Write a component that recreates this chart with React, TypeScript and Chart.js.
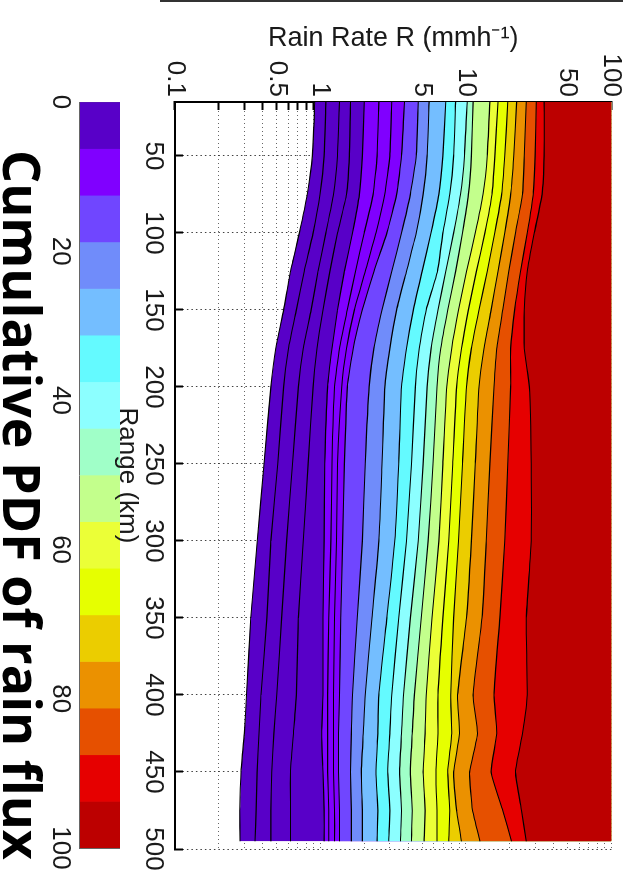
import React, { useEffect, useRef } from "react";
import { Chart, registerables } from "chart.js";

Chart.register(...registerables);

// Range (km) at which the contour boundaries were read
const rangeKm = [15, 50, 75, 100, 125, 150, 175, 200, 250, 300, 350, 400, 425, 450, 475, 495];

// Rain rate (mm/h) of each filled-contour boundary of the cumulative rain-flux PDF
const edge00 = [0.914, 0.88, 0.811, 0.716, 0.622, 0.558, 0.493, 0.456, 0.409, 0.368, 0.332, 0.31, 0.3, 0.284, 0.279, 0.28];
const edge06 = [2.0, 1.94, 1.85, 1.66, 1.46, 1.31, 1.2, 1.12, 1.07, 1.06, 1.04, 1.04, 1.02, 1.04, 1.06, 1.06];
const edge13 = [3.78, 3.61, 3.34, 2.86, 2.33, 1.94, 1.68, 1.53, 1.46, 1.42, 1.38, 1.35, 1.33, 1.33, 1.35, 1.35];
const edge19 = [4.7, 4.56, 4.15, 3.61, 3.09, 2.65, 2.33, 2.16, 2.03, 1.94, 1.79, 1.66, 1.63, 1.61, 1.63, 1.63];
const edge25 = [5.58, 5.41, 5.08, 4.56, 3.9, 3.34, 3.0, 2.77, 2.65, 2.52, 2.26, 2.03, 1.97, 1.91, 1.94, 1.94];
const edge31 = [7.27, 6.94, 6.52, 5.76, 5.0, 4.35, 3.9, 3.61, 3.45, 3.24, 2.86, 2.52, 2.48, 2.41, 2.48, 2.45];
const edge38 = [8.49, 8.23, 7.74, 6.94, 6.37, 5.33, 4.78, 4.49, 4.22, 3.9, 3.45, 3.09, 3.0, 2.9, 3.0, 2.95];
const edge44 = [10.2, 9.77, 9.18, 8.23, 7.27, 6.42, 5.76, 5.41, 5.08, 4.7, 4.15, 3.72, 3.61, 3.5, 3.61, 3.55];
const edge50 = [11.2, 10.9, 10.4, 9.47, 8.49, 7.5, 6.72, 6.32, 5.94, 5.5, 4.93, 4.42, 4.28, 4.15, 4.28, 4.22];
const edge56 = [14.6, 14.0, 13.1, 11.6, 10.1, 8.9, 7.98, 7.38, 6.94, 6.52, 5.85, 5.33, 5.24, 5.08, 5.24, 5.16];
const edge63 = [16.6, 15.8, 15.1, 13.5, 11.8, 10.4, 9.33, 8.63, 8.11, 7.62, 6.94, 6.42, 6.42, 6.22, 6.32, 6.32];
const edge69 = [19.4, 18.5, 17.6, 15.8, 14.0, 12.3, 10.9, 10.1, 9.47, 8.9, 8.23, 7.86, 7.98, 7.5, 7.74, 7.62];
const edge75 = [22.3, 21.3, 20.3, 18.5, 16.6, 14.9, 13.3, 12.3, 11.6, 10.9, 10.1, 8.76, 9.04, 8.23, 8.63, 9.33];
const edge81 = [26.0, 25.2, 24.5, 21.9, 19.7, 17.9, 16.3, 15.6, 14.6, 13.8, 12.9, 11.2, 12.0, 10.6, 11.1, 12.5];
const edge88 = [30.4, 29.9, 29.0, 26.4, 23.7, 21.6, 20.3, 20.3, 19.4, 18.5, 17.1, 15.6, 16.3, 14.9, 17.9, 20.6];
const edge94 = [34.5, 34.5, 33.4, 29.5, 26.4, 25.2, 25.2, 27.3, 28.1, 28.1, 26.0, 26.4, 24.5, 21.9, 24.1, 26.0];

// extra contour lines inside the first two colour bands
const inner02 = [1.09, 1.06, 0.992, 0.89, 0.774, 0.683, 0.603, 0.558, 0.508, 0.456, 0.428, 0.39, 0.378, 0.367, 0.361, 0.355];
const inner03 = [1.35, 1.31, 1.23, 1.09, 0.962, 0.863, 0.762, 0.705, 0.642, 0.585, 0.541, 0.5, 0.478, 0.463, 0.456, 0.456];
const inner05 = [1.61, 1.58, 1.51, 1.31, 1.16, 1.04, 0.947, 0.89, 0.823, 0.762, 0.705, 0.683, 0.652, 0.622, 0.622, 0.622];
const inner08 = [2.52, 2.45, 2.3, 2.0, 1.74, 1.53, 1.35, 1.25, 1.2, 1.18, 1.14, 1.12, 1.12, 1.12, 1.14, 1.14];
const inner10 = [3.09, 3.0, 2.77, 2.41, 2.03, 1.71, 1.51, 1.4, 1.31, 1.29, 1.25, 1.23, 1.23, 1.23, 1.25, 1.25];

const bandColors = [
  "#5800c8", "#8000ff", "#7046ff", "#708cfa", "#74beff", "#64faff",
  "#8cffff", "#a0ffc8", "#c3ff8c", "#ebff37", "#e6ff00", "#ebcd00",
  "#eb9100", "#e65000", "#e60000", "#bc0000",
];
const bandWidths = [6.25, 6.25, 6.25, 6.25, 6.25, 6.25, 6.25, 6.25, 6.25, 6.25, 6.25, 6.25, 6.25, 6.25, 6.25, 6.25];

const rangeTicks = [50, 100, 150, 200, 250, 300, 350, 400, 450, 500];
const rateGrid = [
  0.1, 0.2, 0.3, 0.4, 0.5, 0.6, 0.7, 0.8, 0.9,
  1, 2, 3, 4, 5, 6, 7, 8, 9,
  10, 20, 30, 40, 50, 60, 70, 80, 90, 100,
];
const rateLabels = [0.1, 0.5, 1, 5, 10, 50, 100];
const cbarTicks = [0, 20, 40, 60, 80, 100];

const FONT = "Liberation Sans";
const TXT = "#1a1a1a";

export default function App() {
  const mainRef = useRef<HTMLCanvasElement>(null);
  const barRef = useRef<HTMLCanvasElement>(null);

  useEffect(() => {
    const font = { family: FONT, size: 26 };
    const edges = [
      edge00, edge06, edge13, edge19, edge25, edge31, edge38, edge44,
      edge50, edge56, edge63, edge69, edge75, edge81, edge88, edge94,
    ];
    const inners = [inner02, inner03, inner05, inner08, inner10];
    const toPts = (vals: number[]) => rangeKm.map((r, j) => ({ x: r, y: vals[j] }));

    const datasets: any[] = edges.map((vals, i) => ({
      data: toPts(vals),
      borderColor: "#000",
      borderWidth: 1.1,
      pointRadius: 0,
      tension: 0.15,
      fill: "end",
      backgroundColor: bandColors[i],
      order: 50 - i,
    }));
    inners.forEach((vals) =>
      datasets.push({
        data: toPts(vals),
        borderColor: "#000",
        borderWidth: 1.1,
        pointRadius: 0,
        tension: 0.15,
        fill: false,
        order: 0,
      })
    );

    const main = new Chart(mainRef.current!, {
      type: "line",
      data: { datasets },
      options: {
        animation: false,
        responsive: false,
        maintainAspectRatio: false,
        layout: { padding: { left: 0, top: 19, right: 41, bottom: 111 } },
        plugins: { legend: { display: false }, tooltip: { enabled: false } },
        scales: {
          x: {
            type: "linear",
            position: "bottom",
            min: 15,
            max: 500,
            z: 1,
            afterBuildTicks: (s: any) => {
              s.ticks = rangeTicks.map((v) => ({ value: v }));
            },
            afterFit: (s: any) => {
              s.height = 64;
            },
            grid: {
              color: "rgba(0,0,0,0.75)",
              lineWidth: 1,
              tickLength: -8,
              tickColor: "#000",
              tickWidth: 2,
            },
            border: { display: true, color: "#000", width: 2, dash: [1.5, 3] },
            ticks: { autoSkip: false, maxRotation: 0, minRotation: 0, padding: 14, color: TXT, font },
            title: { display: true, text: "Range (km)", color: TXT, font, padding: { top: 0, bottom: 1 } },
          },
          y: {
            type: "logarithmic",
            position: "left",
            min: 0.1,
            max: 100,
            z: 1,
            afterBuildTicks: (s: any) => {
              s.ticks = rateGrid.map((v) => ({ value: v }));
            },
            afterFit: (s: any) => {
              s.width = 102;
            },
            grid: {
              color: "rgba(0,0,0,0.6)",
              lineWidth: 1,
              tickLength: -8,
              tickColor: "#000",
              tickWidth: 2,
            },
            border: { display: true, color: "#000", width: 2, dash: [1, 3] },
            ticks: {
              autoSkip: false,
              padding: 13,
              color: TXT,
              font,
              callback: (v: any) => (rateLabels.includes(Number(v)) ? String(v) : ""),
            },
            title: {
              display: true,
              text: "Rain Rate R (mmh\u207B\u00B9)",
              color: TXT,
              font: { family: FONT, size: 27 },
              padding: { top: 22, bottom: 0 },
            },
          },
        },
      } as any,
    });

    const bar = new Chart(barRef.current!, {
      type: "bar",
      data: {
        labels: [""],
        datasets: bandWidths.map((w, i) => ({
          data: [w],
          backgroundColor: bandColors[i],
          borderWidth: 0,
          barPercentage: 1,
          categoryPercentage: 1,
        })),
      },
      options: {
        indexAxis: "y",
        animation: false,
        responsive: false,
        maintainAspectRatio: false,
        layout: { padding: { left: 0, top: 20, right: 42, bottom: 0 } },
        plugins: { legend: { display: false }, tooltip: { enabled: false } },
        scales: {
          x: {
            type: "linear",
            stacked: true,
            position: "bottom",
            min: 0,
            max: 100,
            z: 1,
            afterBuildTicks: (s: any) => {
              s.ticks = cbarTicks.map((v) => ({ value: v }));
            },
            afterFit: (s: any) => {
              s.height = 40;
            },
            grid: { drawOnChartArea: false, tickLength: -7, tickColor: "#555", tickWidth: 1 },
            border: { display: true, color: "#666", width: 1 },
            ticks: { autoSkip: false, maxRotation: 0, padding: 11, color: TXT, font },
          },
          x2: {
            type: "linear",
            position: "top",
            min: 0,
            max: 100,
            z: 1,
            afterBuildTicks: (s: any) => {
              s.ticks = cbarTicks.map((v) => ({ value: v }));
            },
            afterFit: (s: any) => {
              s.height = 0;
            },
            grid: { drawOnChartArea: false, tickLength: -7, tickColor: "#555", tickWidth: 1 },
            border: { display: true, color: "#666", width: 1 },
            ticks: { display: false },
          },
          y: {
            type: "category",
            stacked: true,
            position: "left",
            afterFit: (s: any) => {
              s.width = 102;
            },
            grid: { display: false },
            border: { display: true, color: "#666", width: 1 },
            ticks: { display: false },
          },
          y2: {
            type: "category",
            position: "right",
            afterFit: (s: any) => {
              s.width = 0;
            },
            grid: { display: false },
            border: { display: true, color: "#666", width: 1 },
            ticks: { display: false },
          },
        },
      } as any,
    });

    return () => {
      main.destroy();
      bar.destroy();
    };
  }, []);

  return (
    <div style={{ position: "fixed", left: 0, top: 0, width: 640, height: 890, overflow: "hidden", background: "#fff" }}>
      <div
        style={{
          position: "absolute",
          left: 0,
          top: 0,
          width: 890,
          height: 640,
          transformOrigin: "0 0",
          transform: "translate(640px, 0px) rotate(90deg)",
        }}
      >
        <div style={{ position: "absolute", left: 0, top: 17, width: 2, height: 463, background: "#333" }} />
        <canvas ref={barRef} width={890} height={100} style={{ position: "absolute", left: 0, top: 500 }} />
        <canvas ref={mainRef} width={890} height={640} style={{ position: "absolute", left: 0, top: 0 }} />
        <div
          style={{
            position: "absolute",
            left: 150,
            top: 591,
            fontFamily: '"Open Sans"',
            fontWeight: 700,
            fontSize: 52,
            lineHeight: "52px",
            whiteSpace: "nowrap",
            color: "#000",
          }}
        >
          Cumulative PDF of rain flux
        </div>
      </div>
    </div>
  );
}
